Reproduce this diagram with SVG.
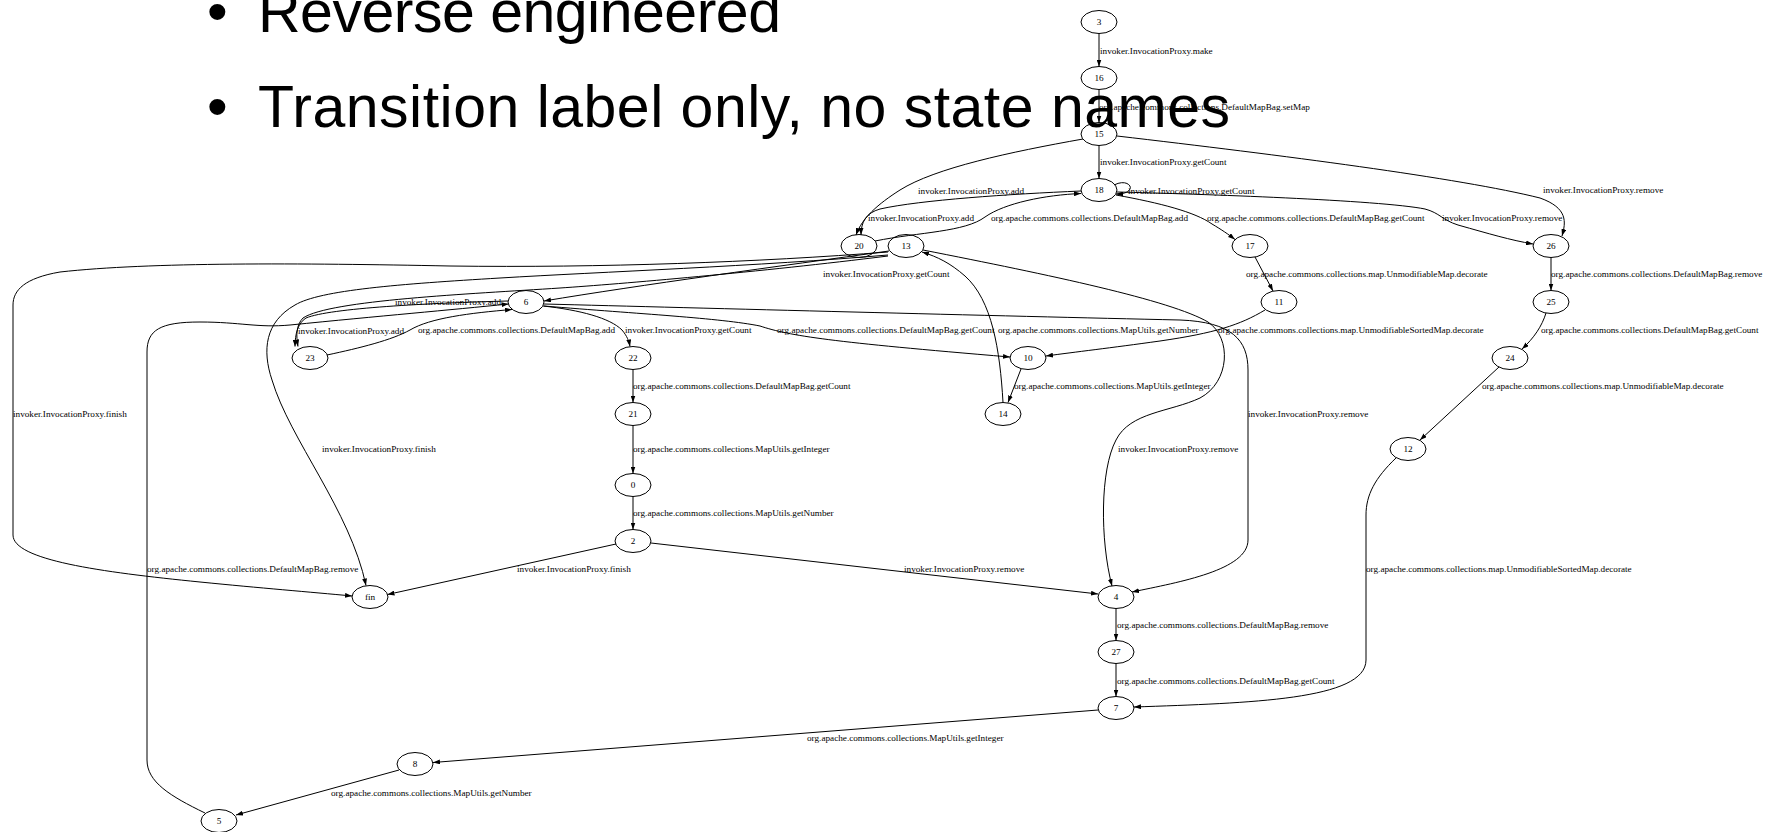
<svg xmlns="http://www.w3.org/2000/svg" width="1772" height="832" viewBox="0 0 1772 832">
<style>
.bg{fill:#ffffff}
.node ellipse{fill:none;stroke:#000;stroke-width:1}
.node text{font-family:"Liberation Serif","Times New Roman",serif;font-size:9.2px;text-anchor:middle;fill:#000}
#edges path{fill:none;stroke:#000;stroke-width:1;marker-end:url(#arr)}
#edges text{font-family:"Liberation Serif","Times New Roman",serif;font-size:9.2px;fill:#000}
.slide{font-family:"Liberation Sans",Arial,sans-serif;font-size:59px;fill:#000}
</style>
<defs>
<marker id="arr" markerUnits="userSpaceOnUse" viewBox="0 0 10 7" markerWidth="7" markerHeight="5" refX="10" refY="3.5" orient="auto">
<path d="M0,0 L10,3.5 L0,7 z" fill="#000"/>
</marker>
</defs>
<rect class="bg" x="0" y="0" width="1772" height="832"/>
<g id="edges">
<path d="M1099,33.5 L1099,66.5"/>
<text x="1100" y="54">invoker.InvocationProxy.make</text>
<path d="M1099,89.5 L1099,122.5"/>
<text x="1099" y="110">org.apache.commons.collections.DefaultMapBag.setMap</text>
<path d="M1099,145.5 L1099,178.5"/>
<text x="1100" y="165">invoker.InvocationProxy.getCount</text>
<path d="M1083,139 C1010,152 935,168 900,190 C878,204 862,218 856,235"/>
<text x="918" y="194">invoker.InvocationProxy.add</text>
<path d="M1081,191 C1010,194 920,200 880,209 C866,213 861,222 861,235"/>
<text x="868" y="221">invoker.InvocationProxy.add</text>
<path d="M875,241 C920,232 965,232 985,217 C1005,203 1045,195 1081,193.5"/>
<text x="991" y="221">org.apache.commons.collections.DefaultMapBag.add</text>
<path d="M1114,185 C1126,179 1132,186 1130,189 C1128,193 1122,194 1116,194"/>
<text x="1128" y="194">invoker.InvocationProxy.getCount</text>
<path d="M1116,195 C1160,203 1195,212 1212,224 C1222,230 1228,234 1235,239.5"/>
<text x="1207" y="221">org.apache.commons.collections.DefaultMapBag.getCount</text>
<path d="M1117,192 C1200,194 1380,200 1425,209 C1440,213 1442,220 1458,225 C1490,234 1510,240 1533,244"/>
<text x="1442" y="221">invoker.InvocationProxy.remove</text>
<path d="M1117,136 C1280,155 1460,178 1540,198 C1568,208 1566,222 1562,236"/>
<text x="1543" y="193">invoker.InvocationProxy.remove</text>
<path d="M1551,257.5 L1551,290.5"/>
<text x="1551" y="277">org.apache.commons.collections.DefaultMapBag.remove</text>
<path d="M1546,313 C1542,326 1534,338 1522,349"/>
<text x="1541" y="333">org.apache.commons.collections.DefaultMapBag.getCount</text>
<path d="M1499,367 L1420,440"/>
<text x="1482" y="389">org.apache.commons.collections.map.UnmodifiableMap.decorate</text>
<path d="M1396,458 C1375,478 1366,495 1366,515 L1366,660 C1366,700 1250,703 1134,707"/>
<text x="1366" y="572">org.apache.commons.collections.map.UnmodifiableSortedMap.decorate</text>
<path d="M1255,257 L1273,291"/>
<text x="1246" y="277">org.apache.commons.collections.map.UnmodifiableMap.decorate</text>
<path d="M1265,310 C1240,325 1215,333 1160,341 C1110,348 1075,352 1046,356"/>
<text x="1218" y="333">org.apache.commons.collections.map.UnmodifiableSortedMap.decorate</text>
<path d="M1021,369 L1008,402.5"/>
<text x="1014" y="389">org.apache.commons.collections.MapUtils.getInteger</text>
<path d="M1003,402.5 C1000,350 992,300 965,276 C950,263 938,257 922,252"/>
<text x="998" y="333">org.apache.commons.collections.MapUtils.getNumber</text>
<path d="M889,251 C780,266 640,285 544,301"/>
<text x="823" y="277">invoker.InvocationProxy.getCount</text>
<path d="M923,250 C1050,275 1170,300 1208,322 C1232,338 1230,382 1200,398 C1170,412 1130,412 1116,440 C1100,470 1100,540 1112,586"/>
<text x="1118" y="452">invoker.InvocationProxy.remove</text>
<path d="M544,304 C700,308 1000,316 1180,320 C1232,322 1248,340 1248,370 L1248,540 C1248,570 1180,582 1132,592"/>
<text x="1248" y="417">invoker.InvocationProxy.remove</text>
<path d="M544,306 C640,314 720,318 760,326 C790,336 830,342 1010,357"/>
<text x="777" y="333">org.apache.commons.collections.DefaultMapBag.getCount</text>
<path d="M543,306 C580,310 610,318 622,330 C627,336 629,341 630,346.5"/>
<text x="625" y="333">invoker.InvocationProxy.getCount</text>
<path d="M633,369.5 L633,402.5"/>
<text x="633" y="389">org.apache.commons.collections.DefaultMapBag.getCount</text>
<path d="M633,425.5 L633,473.5"/>
<text x="633" y="452">org.apache.commons.collections.MapUtils.getInteger</text>
<path d="M633,496.5 L633,529.5"/>
<text x="633" y="516">org.apache.commons.collections.MapUtils.getNumber</text>
<path d="M616,544 L387.5,594.5"/>
<text x="517" y="572">invoker.InvocationProxy.finish</text>
<path d="M651,543 L1098,594"/>
<text x="904" y="572">invoker.InvocationProxy.remove</text>
<path d="M1116,608.5 L1116,640.5"/>
<text x="1117" y="628">org.apache.commons.collections.DefaultMapBag.remove</text>
<path d="M1116,663.5 L1116,696.5"/>
<text x="1117" y="684">org.apache.commons.collections.DefaultMapBag.getCount</text>
<path d="M1098,710 L433,762.5"/>
<text x="807" y="741">org.apache.commons.collections.MapUtils.getInteger</text>
<path d="M399,770 L236,815"/>
<text x="331" y="796">org.apache.commons.collections.MapUtils.getNumber</text>
<path d="M205,813 C170,796 147,782 147,760 L147,352 C147,330 160,322 200,322 C240,322 258,328 290,325 C380,316 450,310 508.5,304"/>
<text x="147" y="572">org.apache.commons.collections.DefaultMapBag.remove</text>
<path d="M888,252 C760,262 600,268 450,266 C300,263 150,262 60,272 C25,278 13,290 13,305 L13,535 C13,560 100,572 200,582 C260,588 310,592 352,596"/>
<text x="13" y="417">invoker.InvocationProxy.finish</text>
<path d="M888,255 C760,266 600,272 500,278 C400,284 320,290 295,305 C265,322 262,350 272,380 C290,440 350,510 366,585.5"/>
<text x="322" y="452">invoker.InvocationProxy.finish</text>
<path d="M888,256 C760,272 620,284 560,288 C470,294 330,300 303,318 C296,325 296,336 298,346.5"/>
<text x="395" y="305">invoker.InvocationProxy.add</text>
<path d="M508,301 C430,303 330,308 306,318 C298,323 295,334 295,346.5"/>
<text x="298" y="334">invoker.InvocationProxy.add</text>
<path d="M327,355 C360,348 392,340 410,330 C430,318 470,313 512,309.5"/>
<text x="418" y="333">org.apache.commons.collections.DefaultMapBag.add</text>
</g>
<g id="node-3" class="node"><ellipse cx="1099" cy="22" rx="18" ry="11.5"/><text x="1099" y="25">3</text></g>
<g id="node-16" class="node"><ellipse cx="1099" cy="78" rx="18" ry="11.5"/><text x="1099" y="81">16</text></g>
<g id="node-15" class="node"><ellipse cx="1099" cy="134" rx="18" ry="11.5"/><text x="1099" y="137">15</text></g>
<g id="node-18" class="node"><ellipse cx="1099" cy="190" rx="18" ry="11.5"/><text x="1099" y="193">18</text></g>
<g id="node-20" class="node"><ellipse cx="859" cy="246" rx="18" ry="11.5"/><text x="859" y="249">20</text></g>
<g id="node-13" class="node"><ellipse cx="906" cy="246" rx="18" ry="11.5"/><text x="906" y="249">13</text></g>
<g id="node-17" class="node"><ellipse cx="1250" cy="246" rx="18" ry="11.5"/><text x="1250" y="249">17</text></g>
<g id="node-26" class="node"><ellipse cx="1551" cy="246" rx="18" ry="11.5"/><text x="1551" y="249">26</text></g>
<g id="node-6" class="node"><ellipse cx="526" cy="302" rx="18" ry="11.5"/><text x="526" y="305">6</text></g>
<g id="node-11" class="node"><ellipse cx="1279" cy="302" rx="18" ry="11.5"/><text x="1279" y="305">11</text></g>
<g id="node-25" class="node"><ellipse cx="1551" cy="302" rx="18" ry="11.5"/><text x="1551" y="305">25</text></g>
<g id="node-23" class="node"><ellipse cx="310" cy="358" rx="18" ry="11.5"/><text x="310" y="361">23</text></g>
<g id="node-22" class="node"><ellipse cx="633" cy="358" rx="18" ry="11.5"/><text x="633" y="361">22</text></g>
<g id="node-10" class="node"><ellipse cx="1028" cy="358" rx="18" ry="11.5"/><text x="1028" y="361">10</text></g>
<g id="node-24" class="node"><ellipse cx="1510" cy="358" rx="18" ry="11.5"/><text x="1510" y="361">24</text></g>
<g id="node-21" class="node"><ellipse cx="633" cy="414" rx="18" ry="11.5"/><text x="633" y="417">21</text></g>
<g id="node-14" class="node"><ellipse cx="1003" cy="414" rx="18" ry="11.5"/><text x="1003" y="417">14</text></g>
<g id="node-12" class="node"><ellipse cx="1408" cy="449" rx="18" ry="11.5"/><text x="1408" y="452">12</text></g>
<g id="node-0" class="node"><ellipse cx="633" cy="485" rx="18" ry="11.5"/><text x="633" y="488">0</text></g>
<g id="node-2" class="node"><ellipse cx="633" cy="541" rx="18" ry="11.5"/><text x="633" y="544">2</text></g>
<g id="node-fin" class="node"><ellipse cx="370" cy="597" rx="18" ry="11.5"/><text x="370" y="600">fin</text></g>
<g id="node-4" class="node"><ellipse cx="1116" cy="597" rx="18" ry="11.5"/><text x="1116" y="600">4</text></g>
<g id="node-27" class="node"><ellipse cx="1116" cy="652" rx="18" ry="11.5"/><text x="1116" y="655">27</text></g>
<g id="node-7" class="node"><ellipse cx="1116" cy="708" rx="18" ry="11.5"/><text x="1116" y="711">7</text></g>
<g id="node-8" class="node"><ellipse cx="415" cy="764" rx="18" ry="11.5"/><text x="415" y="767">8</text></g>
<g id="node-5" class="node"><ellipse cx="219" cy="821" rx="18" ry="11.5"/><text x="219" y="824">5</text></g>
<g id="slide-text">
<text class="slide" x="207" y="32">•</text>
<text class="slide" x="258" y="32" textLength="523">Reverse engineered</text>
<text class="slide" x="207" y="127">•</text>
<text class="slide" x="258" y="127" textLength="972">Transition label only, no state names</text>
</g>
</svg>
